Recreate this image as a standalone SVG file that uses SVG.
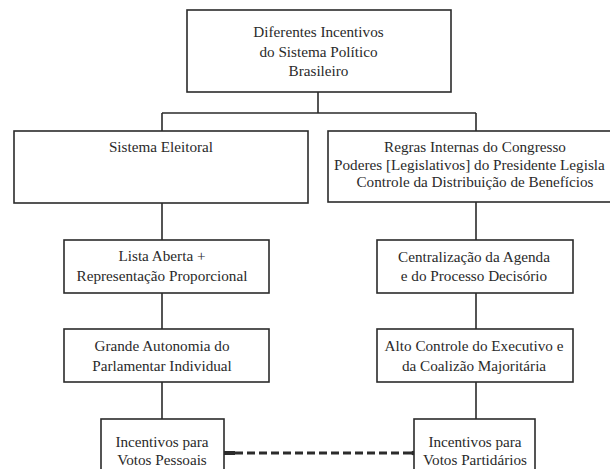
<svg xmlns="http://www.w3.org/2000/svg" width="610" height="469" viewBox="0 0 610 469">
<defs>
<style>
.box{fill:#fff;stroke:#2b2b2b;stroke-width:1.6}
.t{font-family:"Liberation Serif","Times New Roman",serif;font-size:15.2px;fill:#2a2a2a;text-anchor:middle}
.c{stroke:#2b2b2b;stroke-width:1.6;fill:none}
.d{stroke:#2b2b2b;stroke-width:3;fill:none;stroke-dasharray:8 4}
</style>
</defs>
<rect width="610" height="469" fill="#fff"/>
<g id="connectors">
<path class="c" d="M318 92V113M162 113H476M162 113V131M476 113V131"/>
<path class="c" d="M162 203V240M162 293V329M162 382V419"/>
<path class="c" d="M476 202V240M476 293V329M476 382V419"/>
<path class="d" d="M235 453H412"/>
<path d="M223 453H235" stroke="#2b2b2b" stroke-width="4"/>
<circle cx="413" cy="453" r="2.2" fill="#2b2b2b"/>
</g>
<g id="n-top">
<rect class="box" x="187" y="10" width="264" height="82"/>
<text class="t" x="318.5" y="37">Diferentes Incentivos</text>
<text class="t" x="318.5" y="56.5">do Sistema Político</text>
<text class="t" x="318.5" y="76">Brasileiro</text>
</g>
<g id="n-eleitoral">
<rect class="box" x="14" y="131" width="294" height="72"/>
<text class="t" x="161" y="152">Sistema Eleitoral</text>
</g>
<g id="n-congresso">
<rect class="box" x="328" y="131" width="292" height="71"/>
<text class="t" x="475" y="152">Regras Internas do Congresso</text>
<text class="t" x="334" y="169.5" style="text-anchor:start">Poderes [Legislativos] do Presidente Legisla</text>
<text class="t" x="475" y="187">Controle da Distribuição de Benefícios</text>
</g>
<g id="n-lista">
<rect class="box" x="64" y="240" width="205" height="53"/>
<text class="t" x="162" y="261">Lista Aberta +</text>
<text class="t" x="162" y="281">Representação Proporcional</text>
</g>
<g id="n-autonomia">
<rect class="box" x="64" y="329" width="205" height="53"/>
<text class="t" x="162" y="351">Grande Autonomia do</text>
<text class="t" x="162" y="371">Parlamentar Individual</text>
</g>
<g id="n-agenda">
<rect class="box" x="377" y="240" width="196" height="53"/>
<text class="t" x="474" y="262">Centralização da Agenda</text>
<text class="t" x="474" y="281">e do Processo Decisório</text>
</g>
<g id="n-controle">
<rect class="box" x="377" y="329" width="196" height="53"/>
<text class="t" x="474" y="351">Alto Controle do Executivo e</text>
<text class="t" x="474" y="371">da Coalizão Majoritária</text>
</g>
<g id="n-pessoais">
<rect class="box" x="101" y="419" width="123" height="60"/>
<text class="t" x="162" y="446.5">Incentivos para</text>
<text class="t" x="162" y="465">Votos Pessoais</text>
</g>
<g id="n-partidarios">
<rect class="box" x="414" y="419" width="121" height="60"/>
<text class="t" x="475" y="446.5">Incentivos para</text>
<text class="t" x="475" y="465">Votos Partidários</text>
</g>
</svg>
